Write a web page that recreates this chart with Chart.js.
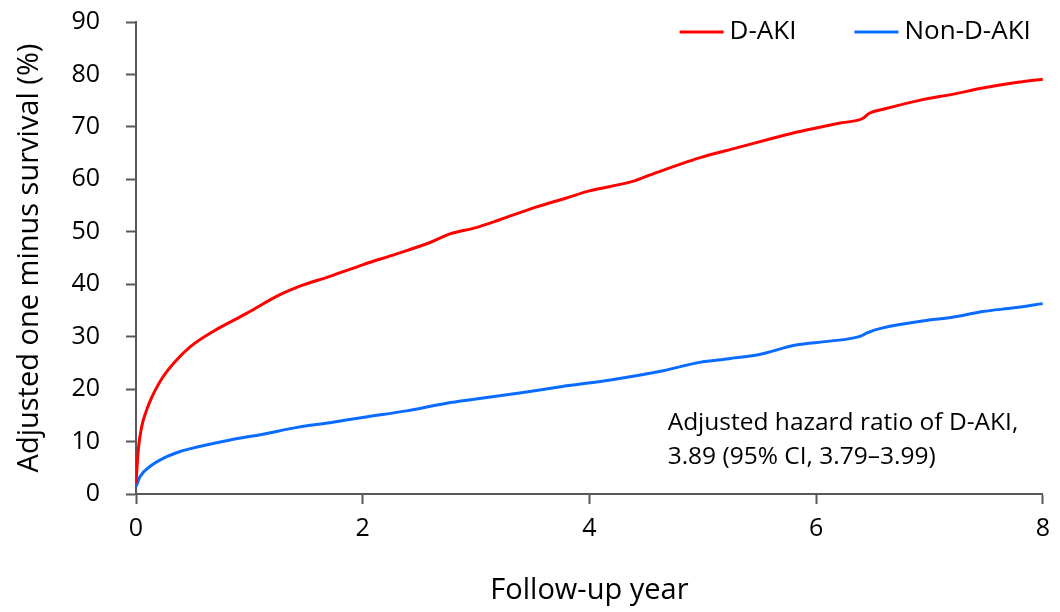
<!DOCTYPE html>
<html>
<head>
<meta charset="utf-8">
<script src="https://cdn.jsdelivr.net/npm/chart.js@4.4.0/dist/chart.umd.min.js"></script>
<style>
    html, body { margin: 0; padding: 0; background: #fff; }
    #wrap { width: 1060px; height: 612px; }
</style>
</head>
<body>
<div id="wrap"><canvas id="survivalChart"></canvas></div>
<script>
const seriesNames = ['D-AKI', 'Non-D-AKI'];

const dakiYears = [0, 0.02, 0.05, 0.09, 0.13, 0.17, 0.24, 0.33, 0.48, 0.68, 0.98, 1.27, 1.44, 1.71, 2.0, 2.3, 2.6, 2.77, 3.0, 3.21, 3.5, 3.79, 4.0, 4.38, 4.53, 4.97, 5.3, 5.79, 6.0, 6.2, 6.41, 6.47, 6.6, 6.94, 7.2, 7.47, 7.75, 8.0];
const dakiValues = [2, 8.4, 12.8, 15.8, 18.0, 19.8, 22.4, 24.9, 28.1, 31, 34.5, 38, 39.6, 41.5, 43.7, 45.8, 48, 49.6, 50.8, 52.3, 54.5, 56.4, 57.8, 59.6, 60.8, 64.1, 66, 68.8, 69.8, 70.7, 71.6, 72.6, 73.4, 75.2, 76.2, 77.4, 78.4, 79.1];

const nonDakiYears = [0, 0.035, 0.12, 0.24, 0.39, 0.53, 0.83, 1.12, 1.42, 1.71, 2.0, 2.4, 2.74, 3.0, 3.4, 3.76, 4.2, 4.65, 4.97, 5.23, 5.5, 5.82, 6.1, 6.38, 6.45, 6.52, 6.91, 7.2, 7.47, 7.75, 8.0];
const nonDakiValues = [1.4, 3.3, 5.2, 6.8, 8.1, 8.9, 10.3, 11.4, 12.7, 13.6, 14.6, 15.9, 17.3, 18.1, 19.3, 20.5, 21.8, 23.5, 25.1, 25.8, 26.6, 28.4, 29.1, 30.0, 30.7, 31.3, 32.9, 33.7, 34.8, 35.5, 36.3];

const xTicks = [0, 2, 4, 6, 8];
const yTicks = [0, 10, 20, 30, 40, 50, 60, 70, 80, 90];

const noteLines = ['Adjusted hazard ratio of D-AKI,', '3.89 (95% CI, 3.79\u20133.99)'];

const FONT = '"Open Sans", "Noto Sans", sans-serif';
const AXIS_COLOR = '#595959';

const toPoints = (xs, ys) => xs.map((x, i) => ({ x: x, y: ys[i] }));

// hazard ratio note, anchored on data coordinates
const notePlugin = {
    id: 'notePlugin',
    afterDatasetsDraw(chart) {
        const { ctx, scales } = chart;
        const left = scales.x.getPixelForValue(4.69);
        const top = scales.y.getPixelForValue(13.5);
        ctx.save();
        ctx.font = '24.5px ' + FONT;
        ctx.fillStyle = '#000';
        ctx.textBaseline = 'middle';
        ctx.textAlign = 'left';
        noteLines.forEach((line, i) => ctx.fillText(line, left, top + i * 34));
        ctx.restore();
    }
};

// legend drawn inside the top right of the plot
const legendPlugin = {
    id: 'insideLegend',
    afterDraw(chart) {
        const { ctx, chartArea } = chart;
        const sets = chart.data.datasets;
        ctx.save();
        ctx.font = '26px ' + FONT;
        ctx.textBaseline = 'middle';
        ctx.textAlign = 'left';
        const lineLen = 44, gap = 6, between = 58;
        let total = 0;
        sets.forEach((ds, i) => {
            total += lineLen + gap + ctx.measureText(ds.label).width;
            if (i < sets.length - 1) total += between;
        });
        let x = chartArea.right - 12 - total;
        const y = chartArea.top + 10;
        sets.forEach(ds => {
            ctx.strokeStyle = ds.borderColor;
            ctx.lineWidth = 3;
            ctx.beginPath();
            ctx.moveTo(x, y);
            ctx.lineTo(x + lineLen, y);
            ctx.stroke();
            x += lineLen + gap;
            ctx.fillStyle = '#000';
            ctx.fillText(ds.label, x, y);
            x += ctx.measureText(ds.label).width + between;
        });
        ctx.restore();
    }
};

const ctx = document.getElementById('survivalChart').getContext('2d');
new Chart(ctx, {
    type: 'line',
    data: {
        datasets: [{
            label: seriesNames[0],
            data: toPoints(dakiYears, dakiValues),
            borderColor: '#FF0000',
            borderWidth: 3,
            pointRadius: 0,
            cubicInterpolationMode: 'monotone',
            fill: false
        }, {
            label: seriesNames[1],
            data: toPoints(nonDakiYears, nonDakiValues),
            borderColor: '#0A6CFF',
            borderWidth: 3,
            pointRadius: 0,
            cubicInterpolationMode: 'monotone',
            fill: false
        }]
    },
    options: {
        responsive: true, maintainAspectRatio: false, animation: false,
        layout: { padding: { left: 12, right: 12, top: 22, bottom: 0 } },
        plugins: {
            legend: { display: false },
            tooltip: { enabled: false }
        },
        scales: {
            x: {
                type: 'linear', min: 0, max: 8,
                afterBuildTicks: (scale) => { scale.ticks = xTicks.map(v => ({ value: v })); },
                afterFit: (scale) => { scale.height = 118; },
                ticks: { color: '#000', font: { family: FONT, size: 25 }, padding: 10, maxRotation: 0 },
                grid: { drawOnChartArea: false, tickLength: 10, tickColor: AXIS_COLOR, tickWidth: 2 },
                border: { color: AXIS_COLOR, width: 2 },
                title: { display: true, text: 'Follow-up year', color: '#000', font: { family: FONT, size: 29 }, padding: { top: 0, bottom: 4 } }
            },
            y: {
                min: 0, max: 90,
                afterBuildTicks: (scale) => { scale.ticks = yTicks.map(v => ({ value: v })); },
                afterFit: (scale) => { scale.width = 124; scale.paddingTop = 0; scale.paddingBottom = 0; },
                ticks: { color: '#000', font: { family: FONT, size: 25 }, padding: 26 },
                grid: { drawOnChartArea: false, tickLength: 10, tickColor: AXIS_COLOR, tickWidth: 2 },
                border: { color: AXIS_COLOR, width: 2 },
                title: { display: true, text: 'Adjusted one minus survival (%)', color: '#000', font: { family: FONT, size: 29 }, padding: { top: 0, bottom: 0 } }
            }
        }
    },
    plugins: [notePlugin, legendPlugin]
});
</script>
</body>
</html>
